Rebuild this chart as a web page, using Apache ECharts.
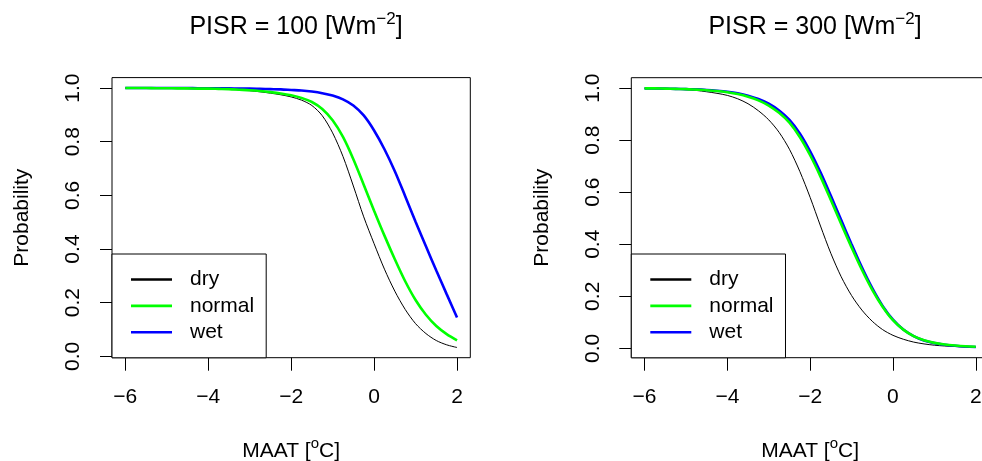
<!DOCTYPE html>
<html>
<head>
<meta charset="utf-8">
<script src="https://cdn.jsdelivr.net/npm/echarts@6/dist/echarts.min.js"></script>
<style>html,body{margin:0;padding:0;background:#fff}#c{width:982px;height:461px}</style>
</head>
<body>
<div id="c"></div>
<script>
// ---- data ----
const seriesNames = ['dry', 'normal', 'wet'];
const panelTitles = ['PISR = 100 [Wm{sup|\u22122}]', 'PISR = 300 [Wm{sup|\u22122}]'];
const xTicks = [-6, -4, -2, 0, 2];
const yTicks = [0, 0.2, 0.4, 0.6, 0.8, 1.0];

// MAAT values (shared by both panels)
const maat = [-6, -5.75, -5.5, -5.25, -5, -4.75, -4.5, -4.25, -4, -3.75, -3.5, -3.25, -3, -2.75, -2.5, -2.25, -2,
              -1.75, -1.5, -1.25, -1, -0.75, -0.5, -0.25, 0, 0.25, 0.5, 0.75, 1, 1.25, 1.5, 1.75, 2];

// PISR = 100
const dryLeft = [1.000, 1.000, 1.000, 0.999, 0.999, 0.999, 0.998, 0.998, 0.997, 0.996, 0.995, 0.993, 0.990, 0.986, 0.981, 0.975, 0.967,
                 0.955, 0.935, 0.897, 0.833, 0.745, 0.635, 0.520, 0.420, 0.325, 0.243, 0.175, 0.122, 0.085, 0.059, 0.043, 0.033];
const normalLeft = [1.000, 1.000, 1.000, 0.9995, 0.9995, 0.999, 0.999, 0.998, 0.998, 0.997, 0.996, 0.994, 0.992, 0.989, 0.985, 0.980, 0.973,
                    0.963, 0.948, 0.922, 0.880, 0.818, 0.735, 0.640, 0.543, 0.450, 0.362, 0.280, 0.210, 0.155, 0.113, 0.083, 0.060];
const wetLeft = [1.000, 1.000, 1.000, 1.000, 1.000, 1.000, 1.000, 0.9995, 0.9995, 0.999, 0.999, 0.998, 0.998, 0.997, 0.996, 0.995, 0.993,
                 0.991, 0.987, 0.981, 0.972, 0.958, 0.935, 0.898, 0.842, 0.772, 0.690, 0.597, 0.502, 0.410, 0.320, 0.232, 0.145];

// PISR = 300
const dryRight = [0.999, 0.998, 0.997, 0.996, 0.994, 0.991, 0.986, 0.980, 0.972, 0.959, 0.940, 0.913, 0.878, 0.830, 0.765, 0.680, 0.580,
                  0.470, 0.365, 0.275, 0.203, 0.147, 0.104, 0.072, 0.050, 0.035, 0.024, 0.017, 0.012, 0.009, 0.007, 0.005, 0.004];
const normalRight = [0.999, 0.999, 0.998, 0.997, 0.996, 0.994, 0.992, 0.989, 0.984, 0.977, 0.967, 0.953, 0.933, 0.905, 0.867, 0.812, 0.742,
                     0.660, 0.570, 0.478, 0.388, 0.302, 0.225, 0.160, 0.108, 0.072, 0.047, 0.031, 0.021, 0.015, 0.011, 0.008, 0.006];
const wetRight = [0.999, 0.999, 0.998, 0.997, 0.996, 0.995, 0.993, 0.990, 0.986, 0.980, 0.971, 0.958, 0.940, 0.914, 0.878, 0.826, 0.757,
                  0.676, 0.586, 0.493, 0.400, 0.311, 0.231, 0.163, 0.110, 0.072, 0.047, 0.030, 0.020, 0.014, 0.010, 0.007, 0.005];

// ---- chart ----
const FONT = '"Liberation Sans", Arial, Helvetica, sans-serif';
const colors = {dry: '#000000', normal: '#00ff00', wet: '#0000ff'};
const widths = {dry: 1, normal: 2.6, wet: 2.6};
const zs = {dry: 3, normal: 5, wet: 4};

function pairs(xs, ys) { return xs.map((x, i) => [x, ys[i]]); }
function fmtX(v) { return v < 0 ? '\u2212' + Math.abs(v) : String(v); }

const panels = [
  {left: 112, top: 77.6, width: 358.3, height: 280.1, yMin: -0.005, yMax: 1.039, cx: 291,
   data: {dry: dryLeft, normal: normalLeft, wet: wetLeft}},
  {left: 631.3, top: 77.7, width: 357.7, height: 280, yMin: -0.036, yMax: 1.040, cx: 810,
   data: {dry: dryRight, normal: normalRight, wet: wetRight}}
];

const option = {
  animation: false,
  backgroundColor: '#fff',
  title: panels.map((p, i) => ({
    text: panelTitles[i],
    left: p.cx, top: 6, textAlign: 'center',
    textStyle: {fontSize: 25, fontWeight: 'normal', color: '#000', fontFamily: FONT,
      rich: {sup: {fontSize: 17, fontFamily: FONT, color: '#000', padding: [0, 0, 16, 0]}}}
  })),
  grid: panels.map(p => ({left: p.left, top: p.top, width: p.width, height: p.height, show: true,
    borderColor: '#000', borderWidth: 1, backgroundColor: 'transparent', outerBoundsMode: 'none', containLabel: false})),
  xAxis: panels.map((p, i) => ({
    type: 'value', gridIndex: i, min: -6.32, max: 2.32,
    splitLine: {show: false}, axisLine: {show: false, onZero: false},
    axisTick: {show: true, inside: false, length: 13, customValues: xTicks, lineStyle: {color: '#000', width: 1}},
    axisLabel: {customValues: xTicks, formatter: fmtX, margin: 29, fontSize: 21, color: '#000', fontFamily: FONT},
    name: 'MAAT [{sup|o}C]', nameLocation: 'middle', nameGap: 79,
    nameTextStyle: {fontSize: 21, color: '#000', fontFamily: FONT,
      rich: {sup: {fontSize: 15, fontFamily: FONT, color: '#000', padding: [0, 0, 14, 0]}}}
  })),
  yAxis: panels.map((p, i) => ({
    type: 'value', gridIndex: i, min: p.yMin, max: p.yMax,
    splitLine: {show: false}, axisLine: {show: false, onZero: false},
    axisTick: {show: true, inside: false, length: 12, customValues: yTicks, lineStyle: {color: '#000', width: 1}},
    axisLabel: {customValues: yTicks, formatter: v => v.toFixed(1), rotate: 90, margin: 28, fontSize: 21, color: '#000', fontFamily: FONT},
    name: 'Probability', nameLocation: 'middle', nameRotate: 90, nameGap: 79,
    nameTextStyle: {fontSize: 21, color: '#000', fontFamily: FONT}
  })),
  legend: panels.map(p => ({
    data: seriesNames, orient: 'vertical', left: p.left, top: 254,
    padding: [15, 12, 15, 19], itemWidth: 41, itemHeight: 2.6, itemGap: 5.4,
    icon: 'rect',
    borderColor: '#000', borderWidth: 1, borderRadius: 0, backgroundColor: '#fff',
    selectedMode: false,
    textStyle: {fontSize: 21, color: '#000', fontFamily: FONT, lineHeight: 21, padding: [0, 0, 0, 13]}
  })),
  series: []
};

panels.forEach((p, i) => {
  seriesNames.forEach(n => {
    option.series.push({
      name: n, type: 'line', xAxisIndex: i, yAxisIndex: i,
      data: pairs(maat, p.data[n]),
      showSymbol: false, symbol: 'none', smooth: 0.3,
      z: zs[n],
      lineStyle: {color: colors[n], width: widths[n]},
      itemStyle: {color: colors[n]},
      emphasis: {disabled: true}
    });
  });
});

const chart = echarts.init(document.getElementById('c'), null, {renderer: 'canvas'});
chart.setOption(option);
</script>
</body>
</html>
